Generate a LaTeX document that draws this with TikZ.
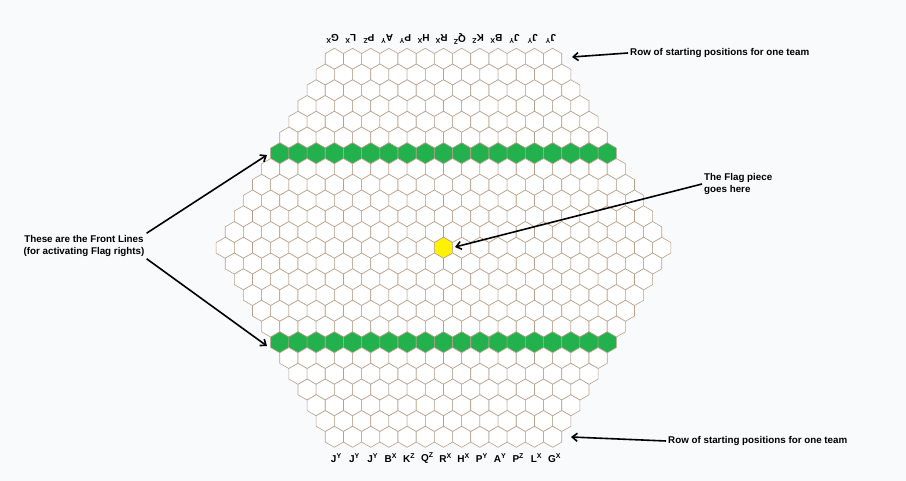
\documentclass[tikz,border=0pt]{standalone}
\usepackage{fontspec}
\setmainfont{Liberation Sans}
\usetikzlibrary{arrows.meta, positioning, calc}
\definecolor{hexedge}{RGB}{185,160,140}
\definecolor{frontgreen}{RGB}{34,177,76}
\definecolor{flagyellow}{RGB}{255,242,0}
\definecolor{paper}{RGB}{249,250,251}
\newcommand{\hexR}{10.5}
\newcommand{\hexW}{18.19}
\tikzset{
    hexcell/.style={draw=hexedge, line width=0.6pt, fill=white},
    frontcell/.style={hexcell, fill=frontgreen},
    flagcell/.style={hexcell, fill=flagyellow},
    line/.style={-{Straight Barb[length=5pt,width=8pt]}, line width=1.6pt},
    note/.style={font=\bfseries\fontsize{9.8}{12}\selectfont, align=left, inner sep=2pt},
    startlabel/.style={font=\bfseries\fontsize{10}{12}\selectfont, inner sep=0pt}
}

\begin{document}
\begin{tikzpicture}[x=1pt, y=-1pt]

\fill[paper] (0,0) rectangle (906,481);
\useasboundingbox (0,0) rectangle (906,481);

% board: 25 rows, 13 cells at the ends, 25 in the middle
\foreach \k in {0,...,24}{
    \pgfmathtruncatemacro{\n}{25-abs(12-\k)}
    \foreach \i in {1,...,\n}{
        \pgfmathsetmacro{\cx}{443.5+(\i-(\n+1)/2)*\hexW}
        \pgfmathsetmacro{\cy}{58.8+\k*15.75}
        \def\st{hexcell}
        \ifnum\k=6 \def\st{frontcell}\fi
        \ifnum\k=18 \def\st{frontcell}\fi
        \ifnum\k=12 \ifnum\i=13 \def\st{flagcell}\fi\fi
        \draw[\st] (\cx,\cy) +(30:\hexR) -- +(90:\hexR) -- +(150:\hexR)
            -- +(210:\hexR) -- +(270:\hexR) -- +(330:\hexR) -- cycle;
    }
}

% starting position letters
\foreach \l/\s [count=\i from 0] in {J/Y,J/Y,J/Y,B/X,K/Z,Q/Z,R/X,H/X,P/Y,A/Y,P/Z,L/X,G/X}{
    \pgfmathsetmacro{\bx}{443.5+(\i-6)*\hexW+2}
    \pgfmathsetmacro{\tx}{443.5-(\i-6)*\hexW-2}
    \node[startlabel] (blbl\i) at (\bx,458) {\l\textsuperscript{\s}};
    \node[startlabel, rotate=180] (tlbl\i) at (\tx,39) {\l\textsuperscript{\s}};
}

\coordinate (topend) at (572,57);
\coordinate (botend) at (571,437);
\coordinate (frontup) at (267,155);
\coordinate (frontdown) at (267,346);
\coordinate (flagend) at (455,247);

\node[note, anchor=west] (toprow) at (628,53) {Row of starting positions for one team};
\node[note, anchor=west] (botrow) at (666,441) {Row of starting positions for one team};
\node[note, align=center] (front) at (84,246) {These are the Front Lines\\(for activating Flag rights)};
\node[note, anchor=west] (flag) at (702,184) {The Flag piece\\goes here};

\draw[line] (toprow.west) -- (topend);
\draw[line] (botrow.west) -- (botend);
\draw[line] (front.north east) -- (frontup);
\draw[line] (front.south east) -- (frontdown);
\draw[line] (flag.west) -- (flagend);

\end{tikzpicture}
\end{document}
